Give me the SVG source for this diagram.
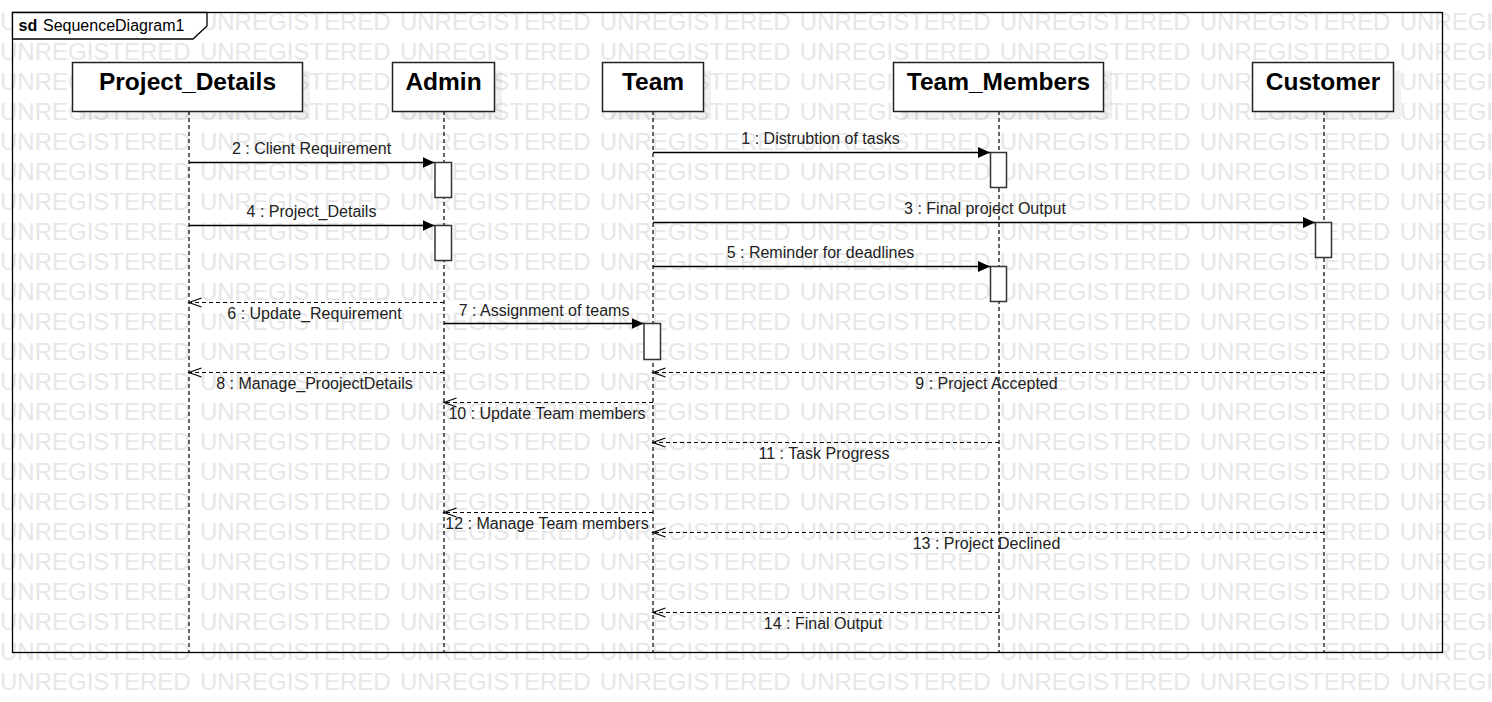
<svg xmlns="http://www.w3.org/2000/svg" width="1492" height="702" viewBox="0 0 1492 702">
<style>
.wm{font-family:"Liberation Sans",Arial,sans-serif;font-size:24px;fill:#e7e7e7;word-spacing:2.6px}
.title{font-family:"Liberation Sans",Arial,sans-serif;font-size:24.5px;font-weight:bold;fill:#000;text-anchor:middle}
.lbl{font-family:"Liberation Sans",Arial,sans-serif;font-size:16px;fill:#222;text-anchor:middle}
.box{fill:#fff;stroke:#222;stroke-width:1.5}
.shadow{fill:#000;fill-opacity:0.055}
.life{stroke:#000;stroke-width:1.2;stroke-dasharray:4 3;fill:none}
.act{fill:#fff;stroke:#333;stroke-width:1.5}
.sync{stroke:#000;stroke-width:1.3;fill:none;marker-end:url(#filled)}
.ret{stroke:#000;stroke-width:1.2;stroke-dasharray:4 3;fill:none;marker-end:url(#open)}
</style>
<defs>
<marker id="filled" markerUnits="userSpaceOnUse" markerWidth="13" markerHeight="12" refX="12" refY="5.5" orient="auto">
<path d="M0,0 L12,5.5 L0,11 Z" fill="#000" stroke="none"/>
</marker>
<marker id="open" markerUnits="userSpaceOnUse" markerWidth="15" markerHeight="12" refX="13" refY="5" orient="auto">
<path d="M0.5,0.5 L13,5 L0.5,9.5" fill="none" stroke="#000" stroke-width="1.2" stroke-dasharray="none"/>
</marker>
</defs>
<rect width="1492" height="702" fill="#fff"/>
<g id="watermark">
<text class="wm" x="0" y="30">UNREGISTERED UNREGISTERED UNREGISTERED UNREGISTERED UNREGISTERED UNREGISTERED UNREGISTERED UNREGISTERED</text>
<text class="wm" x="0" y="60">UNREGISTERED UNREGISTERED UNREGISTERED UNREGISTERED UNREGISTERED UNREGISTERED UNREGISTERED UNREGISTERED</text>
<text class="wm" x="0" y="90">UNREGISTERED UNREGISTERED UNREGISTERED UNREGISTERED UNREGISTERED UNREGISTERED UNREGISTERED UNREGISTERED</text>
<text class="wm" x="0" y="120">UNREGISTERED UNREGISTERED UNREGISTERED UNREGISTERED UNREGISTERED UNREGISTERED UNREGISTERED UNREGISTERED</text>
<text class="wm" x="0" y="150">UNREGISTERED UNREGISTERED UNREGISTERED UNREGISTERED UNREGISTERED UNREGISTERED UNREGISTERED UNREGISTERED</text>
<text class="wm" x="0" y="180">UNREGISTERED UNREGISTERED UNREGISTERED UNREGISTERED UNREGISTERED UNREGISTERED UNREGISTERED UNREGISTERED</text>
<text class="wm" x="0" y="210">UNREGISTERED UNREGISTERED UNREGISTERED UNREGISTERED UNREGISTERED UNREGISTERED UNREGISTERED UNREGISTERED</text>
<text class="wm" x="0" y="240">UNREGISTERED UNREGISTERED UNREGISTERED UNREGISTERED UNREGISTERED UNREGISTERED UNREGISTERED UNREGISTERED</text>
<text class="wm" x="0" y="270">UNREGISTERED UNREGISTERED UNREGISTERED UNREGISTERED UNREGISTERED UNREGISTERED UNREGISTERED UNREGISTERED</text>
<text class="wm" x="0" y="300">UNREGISTERED UNREGISTERED UNREGISTERED UNREGISTERED UNREGISTERED UNREGISTERED UNREGISTERED UNREGISTERED</text>
<text class="wm" x="0" y="330">UNREGISTERED UNREGISTERED UNREGISTERED UNREGISTERED UNREGISTERED UNREGISTERED UNREGISTERED UNREGISTERED</text>
<text class="wm" x="0" y="360">UNREGISTERED UNREGISTERED UNREGISTERED UNREGISTERED UNREGISTERED UNREGISTERED UNREGISTERED UNREGISTERED</text>
<text class="wm" x="0" y="390">UNREGISTERED UNREGISTERED UNREGISTERED UNREGISTERED UNREGISTERED UNREGISTERED UNREGISTERED UNREGISTERED</text>
<text class="wm" x="0" y="420">UNREGISTERED UNREGISTERED UNREGISTERED UNREGISTERED UNREGISTERED UNREGISTERED UNREGISTERED UNREGISTERED</text>
<text class="wm" x="0" y="450">UNREGISTERED UNREGISTERED UNREGISTERED UNREGISTERED UNREGISTERED UNREGISTERED UNREGISTERED UNREGISTERED</text>
<text class="wm" x="0" y="480">UNREGISTERED UNREGISTERED UNREGISTERED UNREGISTERED UNREGISTERED UNREGISTERED UNREGISTERED UNREGISTERED</text>
<text class="wm" x="0" y="510">UNREGISTERED UNREGISTERED UNREGISTERED UNREGISTERED UNREGISTERED UNREGISTERED UNREGISTERED UNREGISTERED</text>
<text class="wm" x="0" y="540">UNREGISTERED UNREGISTERED UNREGISTERED UNREGISTERED UNREGISTERED UNREGISTERED UNREGISTERED UNREGISTERED</text>
<text class="wm" x="0" y="570">UNREGISTERED UNREGISTERED UNREGISTERED UNREGISTERED UNREGISTERED UNREGISTERED UNREGISTERED UNREGISTERED</text>
<text class="wm" x="0" y="600">UNREGISTERED UNREGISTERED UNREGISTERED UNREGISTERED UNREGISTERED UNREGISTERED UNREGISTERED UNREGISTERED</text>
<text class="wm" x="0" y="630">UNREGISTERED UNREGISTERED UNREGISTERED UNREGISTERED UNREGISTERED UNREGISTERED UNREGISTERED UNREGISTERED</text>
<text class="wm" x="0" y="660">UNREGISTERED UNREGISTERED UNREGISTERED UNREGISTERED UNREGISTERED UNREGISTERED UNREGISTERED UNREGISTERED</text>
<text class="wm" x="0" y="690">UNREGISTERED UNREGISTERED UNREGISTERED UNREGISTERED UNREGISTERED UNREGISTERED UNREGISTERED UNREGISTERED</text>
</g>
<g id="frame">
<rect x="12.5" y="12.5" width="1430" height="640" fill="none" stroke="#000" stroke-width="1.3"/>
<path d="M12.5,12.5 L207,12.5 L207,26 L193,39 L12.5,39 Z" fill="#fff" stroke="#000" stroke-width="1.3"/>
<text x="18.5" y="30.5" font-family="Liberation Sans, Arial, sans-serif" font-size="16" font-weight="bold" fill="#000">sd</text>
<text x="43" y="30.5" font-family="Liberation Sans, Arial, sans-serif" font-size="16" fill="#000">SequenceDiagram1</text>
</g>
<g id="lifelines">
<line class="life" x1="189" y1="111" x2="189" y2="652"/>
<line class="life" x1="444" y1="111" x2="444" y2="652"/>
<line class="life" x1="653" y1="111" x2="653" y2="652"/>
<line class="life" x1="999" y1="111" x2="999" y2="652"/>
<line class="life" x1="1324" y1="111" x2="1324" y2="652"/>
</g>
<g id="node-project-details">
<rect class="shadow" x="80" y="70.5" width="230" height="49"/>
<rect class="box" x="72.5" y="62.5" width="230" height="49"/>
<text class="title" x="187.5" y="90">Project_Details</text>
</g>
<g id="node-admin">
<rect class="shadow" x="400" y="70.5" width="102" height="49"/>
<rect class="box" x="392.5" y="62.5" width="102" height="49"/>
<text class="title" x="443.5" y="90">Admin</text>
</g>
<g id="node-team">
<rect class="shadow" x="610" y="70.5" width="101" height="49"/>
<rect class="box" x="602.5" y="62.5" width="101" height="49"/>
<text class="title" x="653" y="90">Team</text>
</g>
<g id="node-team-members">
<rect class="shadow" x="901" y="70.5" width="211" height="49"/>
<rect class="box" x="893.5" y="62.5" width="210" height="49"/>
<text class="title" x="998.5" y="90">Team_Members</text>
</g>
<g id="node-customer">
<rect class="shadow" x="1260" y="70.5" width="141" height="49"/>
<rect class="box" x="1252.5" y="62.5" width="141" height="49"/>
<text class="title" x="1323" y="90">Customer</text>
</g>
<g id="activations">
<rect class="act" x="990.5" y="152.5" width="16" height="35"/>
<rect class="act" x="435" y="162.5" width="16.5" height="35"/>
<rect class="act" x="1315.5" y="222.5" width="16" height="35"/>
<rect class="act" x="435" y="225.5" width="16.5" height="35"/>
<rect class="act" x="990.5" y="266.5" width="16" height="35"/>
<rect class="act" x="644" y="323.5" width="16.5" height="36"/>
</g>
<g id="connectors">
<line class="sync" x1="653" y1="152.5" x2="990" y2="152.5"/>
<line class="sync" x1="189" y1="162.5" x2="434.5" y2="162.5"/>
<line class="sync" x1="653" y1="222.5" x2="1315" y2="222.5"/>
<line class="sync" x1="189" y1="225.5" x2="434.5" y2="225.5"/>
<line class="sync" x1="653" y1="266.5" x2="990" y2="266.5"/>
<line class="ret" x1="444" y1="302.5" x2="189" y2="302.5"/>
<line class="sync" x1="444" y1="323.5" x2="643.5" y2="323.5"/>
<line class="ret" x1="444" y1="372.5" x2="189" y2="372.5"/>
<line class="ret" x1="1324" y1="372.5" x2="653" y2="372.5"/>
<line class="ret" x1="653" y1="402.5" x2="444" y2="402.5"/>
<line class="ret" x1="999" y1="442.5" x2="653" y2="442.5"/>
<line class="ret" x1="653" y1="512.5" x2="444" y2="512.5"/>
<line class="ret" x1="1324" y1="532.5" x2="653" y2="532.5"/>
<line class="ret" x1="999" y1="612.5" x2="653" y2="612.5"/>
</g>
<g id="labels">
<text class="lbl" x="820.5" y="143.5">1 : Distrubtion of tasks</text>
<text class="lbl" x="311.5" y="154">2 : Client Requirement</text>
<text class="lbl" x="985" y="213.5">3 : Final project Output</text>
<text class="lbl" x="311.5" y="216.5">4 : Project_Details</text>
<text class="lbl" x="820.5" y="257.5">5 : Reminder for deadlines</text>
<text class="lbl" x="314.5" y="318.5">6 : Update_Requirement</text>
<text class="lbl" x="544" y="315.5">7 : Assignment of teams</text>
<text class="lbl" x="314.5" y="388.5">8 : Manage_ProojectDetails</text>
<text class="lbl" x="986.5" y="388.5">9 : Project Accepted</text>
<text class="lbl" x="547" y="418.5">10 : Update Team members</text>
<text class="lbl" x="824" y="458.5">11 : Task Progress</text>
<text class="lbl" x="547" y="528.5">12 : Manage Team members</text>
<text class="lbl" x="986.5" y="548.5">13 : Project Declined</text>
<text class="lbl" x="823" y="628.5">14 : Final Output</text>
</g>
</svg>
